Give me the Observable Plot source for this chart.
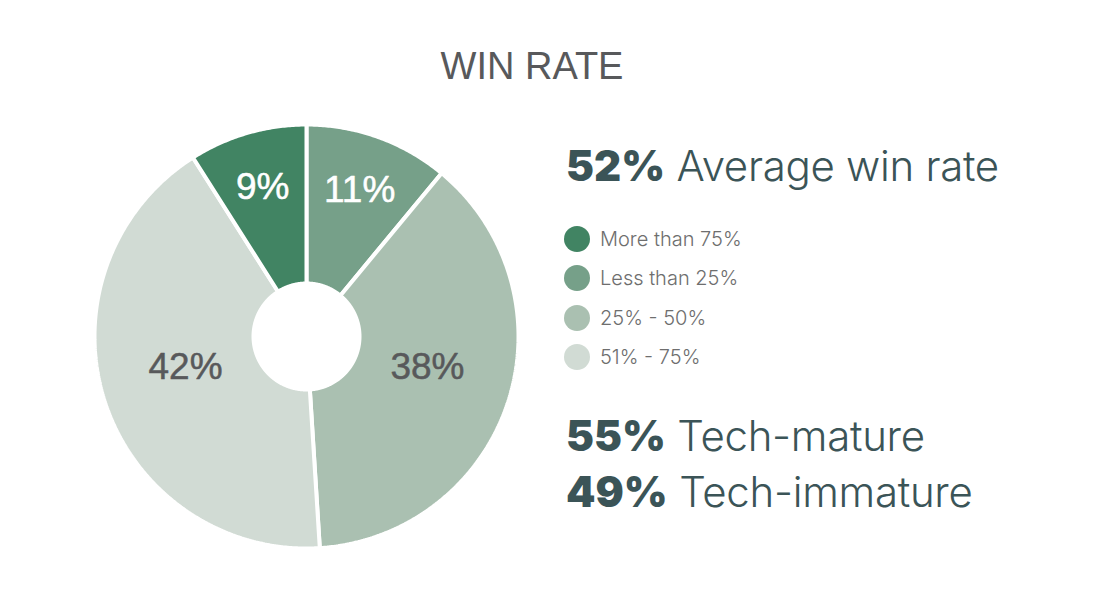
<!DOCTYPE html>
<html><head><meta charset="utf-8">
<script src="https://cdn.jsdelivr.net/npm/d3@7"></script>
<script src="https://cdn.jsdelivr.net/npm/@observablehq/plot@0.6"></script>
<style>
body{margin:0;background:#fff;}
#root{position:relative;width:1102px;height:596px;overflow:hidden;background:#fff;}
#title{position:absolute;left:0;width:1064px;top:47px;text-align:center;font-family:"Liberation Sans",Arial,sans-serif;font-size:38px;line-height:38px;color:#58595b;}
#chart{position:absolute;left:0;top:0;}
.stat{position:absolute;left:566px;font-family:Inter,sans-serif;font-size:42px;line-height:42px;color:#3b5457;font-weight:300;white-space:nowrap;letter-spacing:-0.3px;}
.stat b{font-weight:900;letter-spacing:0;}
#legend{position:absolute;left:564px;top:219px;font-family:Inter,sans-serif;font-size:20px;font-weight:300;color:#6e6e6e;}
.row{display:flex;align-items:center;height:39.5px;}
.sw{width:26px;height:26px;border-radius:50%;margin-right:10px;flex:none;}
</style></head>
<body><div id="root">
<div id="title">WIN RATE</div>
<div id="chart"></div>
<div id="stats"></div>
<div id="legend"></div>
</div>
<script>
// clockwise from 12 o'clock
const categories = ["Less than 25%", "25% - 50%", "51% - 75%", "More than 75%"];
const shares = [11, 38, 42, 9];
const legendOrder = ["More than 75%", "Less than 25%", "25% - 50%", "51% - 75%"];
const statValues = ["52%", "55%", "49%"];
const statLabels = ["Average win rate", "Tech-mature", "Tech-immature"];

// styles
const sliceColors = ["#76a089", "#aac0b1", "#d1dbd4", "#418463"];
const labelColors = ["#ffffff", "#58595b", "#58595b", "#ffffff"];
const statTops = [145, 415, 471];

const total = d3.sum(shares);
let acc = 0;
const slices = categories.map((c, i) => {
  const a0 = acc / total * 2 * Math.PI;
  acc += shares[i];
  const a1 = acc / total * 2 * Math.PI;
  return {category: c, value: shares[i], a0, a1, mid: (a0 + a1) / 2, labelColor: labelColors[i]};
});

const INNER = 53 / 212;
const pts = [];
for (const s of slices) {
  const n = Math.max(2, Math.ceil((s.a1 - s.a0) / (Math.PI / 360)));
  for (let k = 0; k <= n; k++) {
    const a = s.a0 + (s.a1 - s.a0) * k / n;
    pts.push({category: s.category, x: Math.sin(a), y: Math.cos(a)});
  }
  for (let k = n; k >= 0; k--) {
    const a = s.a0 + (s.a1 - s.a0) * k / n;
    pts.push({category: s.category, x: INNER * Math.sin(a), y: INNER * Math.cos(a)});
  }
}
const lr = d => d.value < 20 ? 0.74 : 0.6;
const labelOpts = (col, dy) => ({
  filter: d => d.labelColor === col,
  x: d => lr(d) * Math.sin(d.mid),
  y: d => lr(d) * Math.cos(d.mid),
  text: d => d.value + "%",
  fill: col,
  stroke: col,
  strokeWidth: 0.5,
  dy,
  fontSize: 37,
  fontWeight: 400,
  fontFamily: "'Liberation Sans', Arial, sans-serif"
});

const chart = Plot.plot({
  width: 1102,
  height: 596,
  margin: 0,
  style: {background: "transparent", overflow: "visible"},
  x: {domain: [-1, 1], range: [94, 518], axis: null},
  y: {domain: [-1, 1], range: [548, 124], axis: null},
  color: {domain: categories, range: sliceColors},
  marks: [
    Plot.line(pts, {x: "x", y: "y", z: "category", fill: "category", stroke: "white", strokeWidth: 4, strokeLinejoin: "miter", curve: "linear-closed"}),
    Plot.text(slices, labelOpts("#ffffff", 1)),
    Plot.text(slices, labelOpts("#58595b", -9))
  ]
});
document.getElementById("chart").appendChild(chart);

const stats = document.getElementById("stats");
statValues.forEach((v, i) => {
  const d = document.createElement("div");
  d.className = "stat";
  d.style.top = statTops[i] + "px";
  d.innerHTML = "<b>" + v + "</b> " + statLabels[i];
  stats.appendChild(d);
});

const legend = document.getElementById("legend");
legendOrder.forEach(c => {
  const r = document.createElement("div");
  r.className = "row";
  const sw = document.createElement("span");
  sw.className = "sw";
  sw.style.background = sliceColors[categories.indexOf(c)];
  const t = document.createElement("span");
  t.textContent = c;
  r.appendChild(sw); r.appendChild(t);
  legend.appendChild(r);
});
</script>
</body></html>
